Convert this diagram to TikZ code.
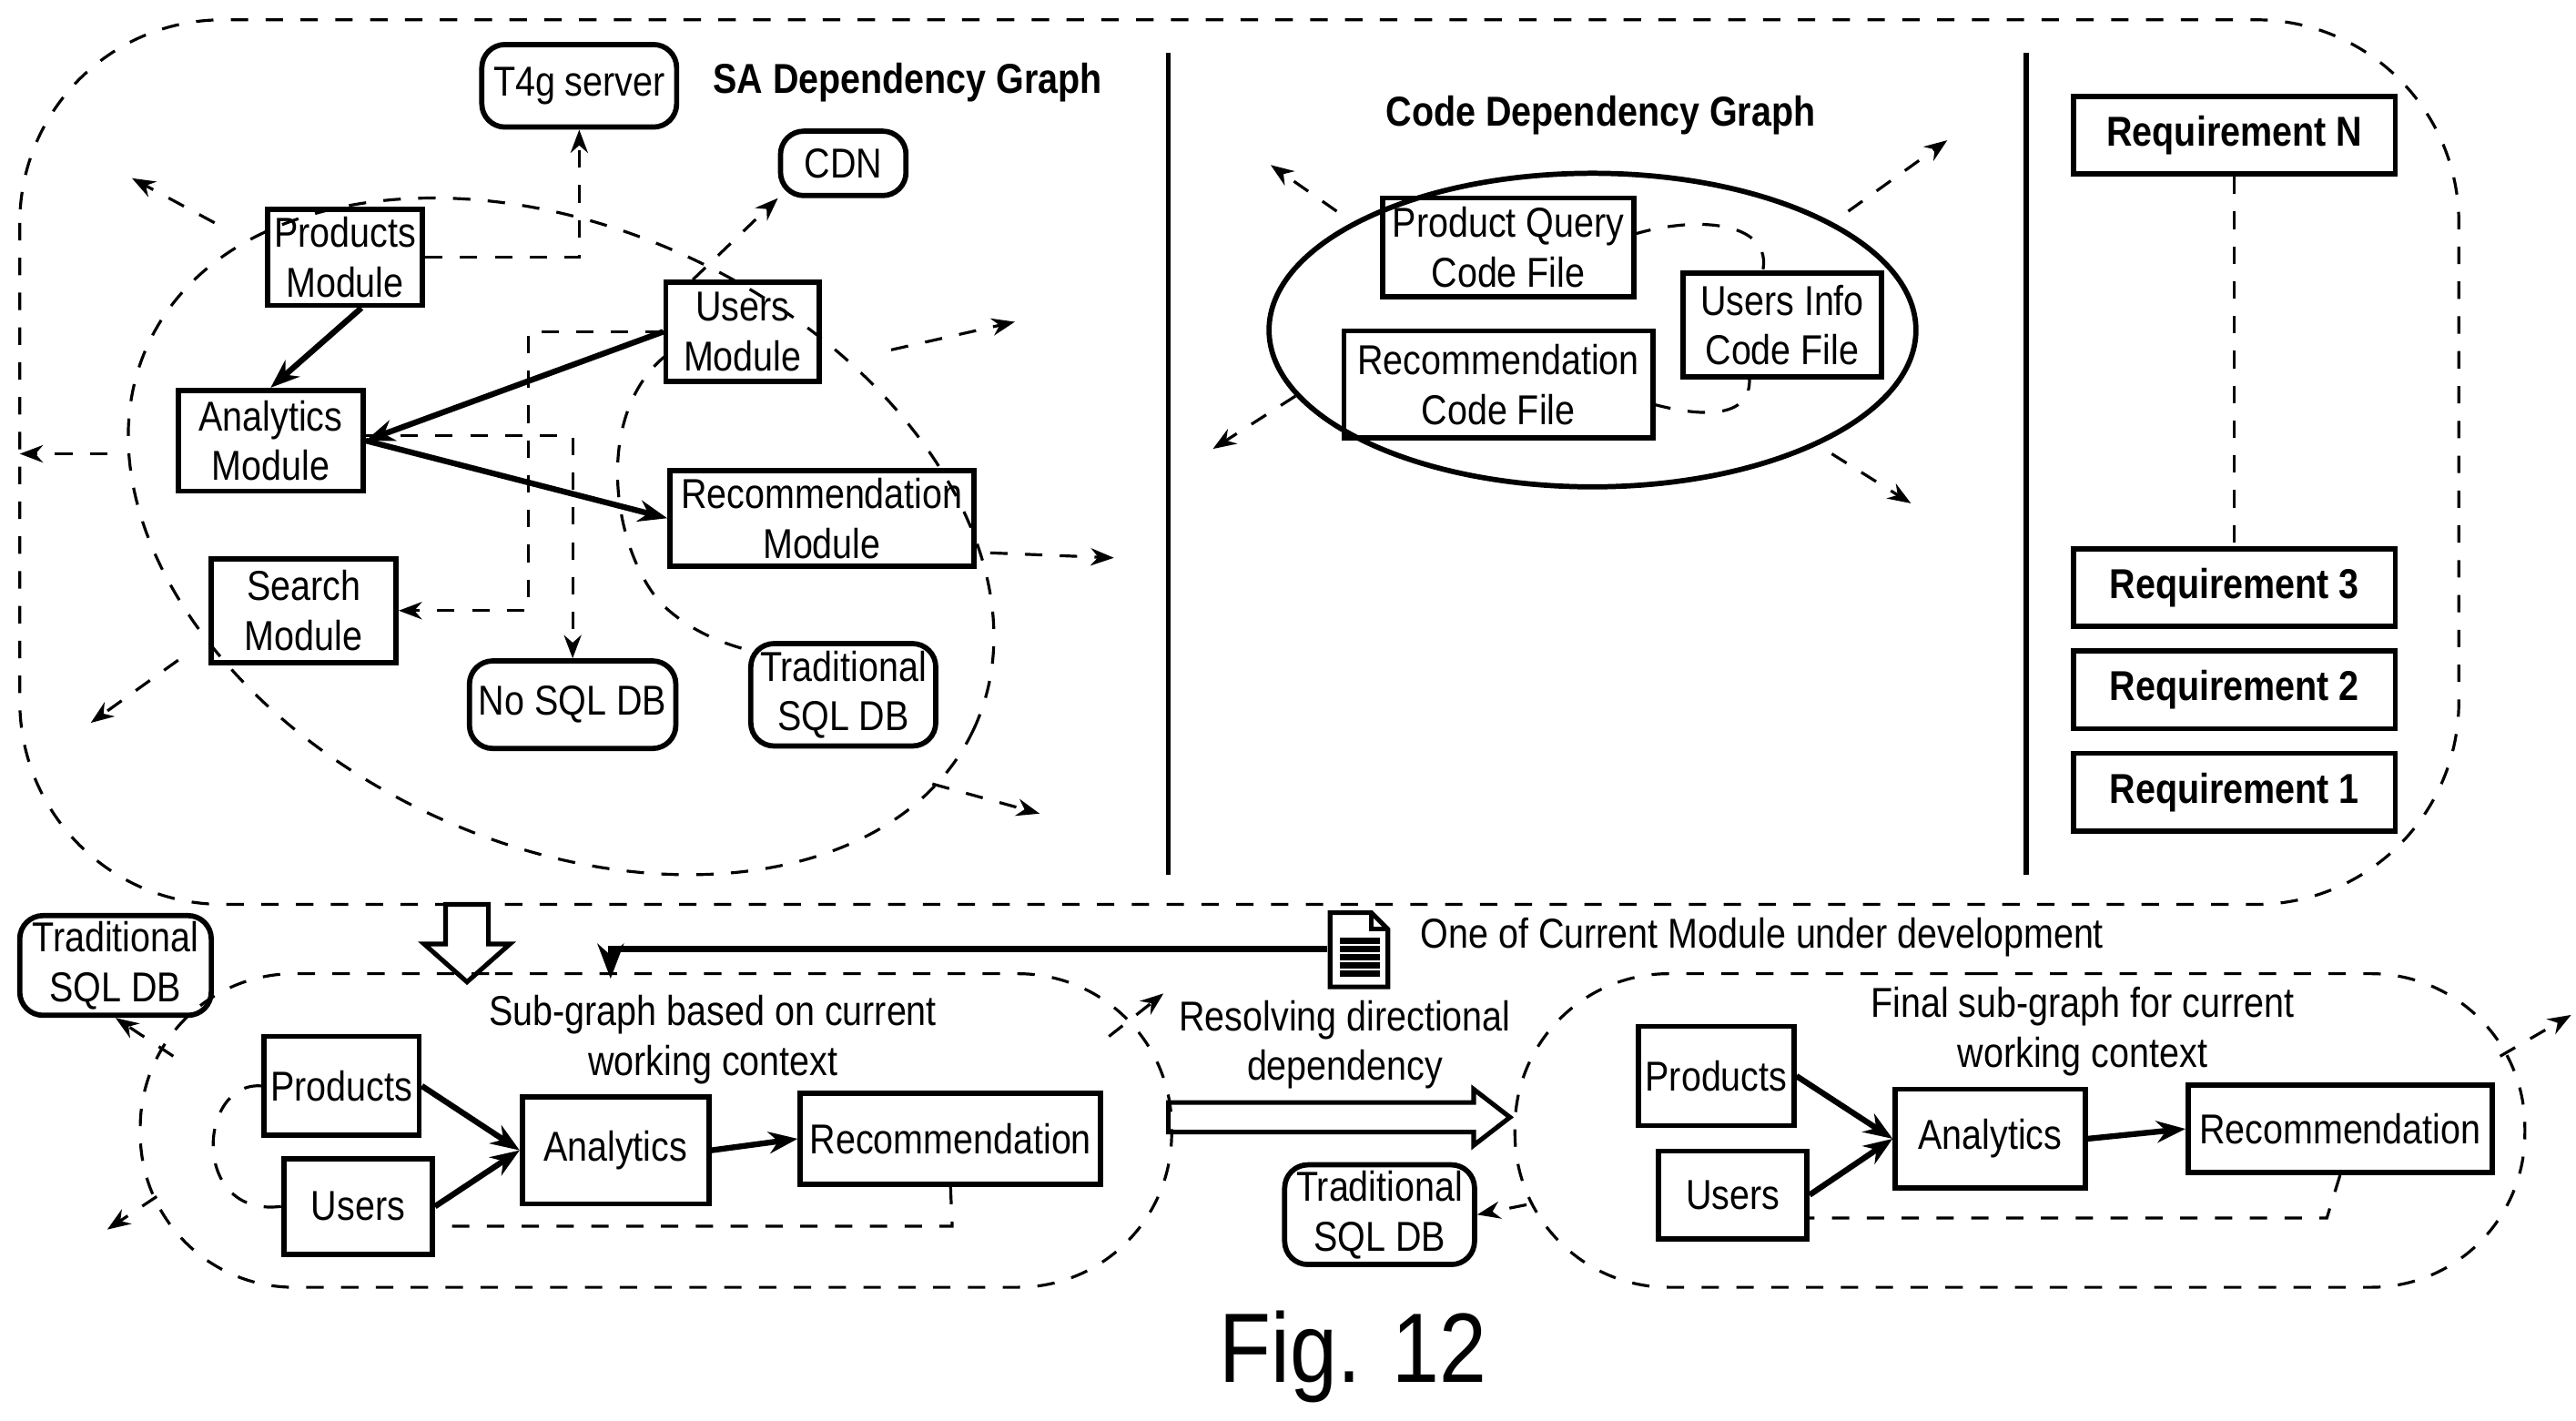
\documentclass[tikz,border=0pt]{standalone}
\usepackage{fontspec}
\setmainfont{Liberation Sans}[FakeStretch=0.86]
\usetikzlibrary{arrows.meta}
\begin{document}
\begin{tikzpicture}[x=0.01cm,y=-0.01cm,line width=0.6pt,
 every node/.style={font=\fontsize{7.2}{8.6}\selectfont},
 box/.style={draw,line width=0.9pt,align=center,inner sep=1pt},
 rbox/.style={box,rounded corners=4pt},
 req/.style={draw,line width=0.9pt,minimum width=1.95cm,minimum height=0.44cm,font=\fontsize{7.2}{8.6}\selectfont\bfseries},
 dsh/.style={dashed,line width=0.5pt},
 da/.style={dsh,-{Stealth[length=4pt]}},
 sa/.style={line width=1pt,-{Stealth[length=5pt]}}]
\useasboundingbox (0,0) rectangle (1561,861);
% frame
\draw[dsh] (12,12) [rounded corners=35pt] rectangle (1490,548);
\draw[line width=0.9pt] (708,32) -- (708,530) (1228,32) -- (1228,530);
% SA graph
\draw[dsh,rotate around={-25:(340,325)}] (340,325) ellipse [x radius=276,y radius=186];
\draw[dsh] (404,215) .. controls (360,250) and (370,330) .. (400,365) .. controls (420,385) and (445,392) .. (458,395);
\node[font=\fontsize{7.2}{8.6}\selectfont\bfseries] at (550,50) {SA Dependency Graph};
\node[rbox,minimum width=1.18cm,minimum height=0.5cm] (t4g) at (351,52) {T4g server};
\node[rbox,minimum width=0.76cm,minimum height=0.39cm] (cdn) at (511,99) {CDN};
\node[box,minimum width=0.94cm,minimum height=0.58cm] (prod) at (209,156) {Products\\Module};
\node[box,minimum width=0.93cm,minimum height=0.6cm] (users) at (450,201) {Users\\Module};
\node[box,minimum width=1.12cm,minimum height=0.61cm] (anal) at (164,267) {Analytics\\Module};
\node[box,minimum width=1.84cm,minimum height=0.58cm] (rec) at (498,314) {Recommendation\\Module};
\node[box,minimum width=1.12cm,minimum height=0.63cm] (search) at (184,370) {Search\\Module};
\node[rbox,minimum width=1.25cm,minimum height=0.53cm] (nosql) at (347,427) {No SQL DB};
\node[rbox,minimum width=1.12cm,minimum height=0.62cm] (tsql) at (511,421) {Traditional\\SQL DB};
\draw[da] (prod.east) -- (351,156) -- (t4g.south);
\draw[da] (users.north west) ++(18,0) -- (cdn.south west);
\draw[sa] (prod.south) ++(10,0) -- (anal.north);
\draw[sa] (users.west) -- (anal.east);
\draw[sa] (anal.east) -- (rec.west);
\draw[da] (anal.east) ++(0,-3) -- (347,264) -- (nosql.north);
\draw[da] (users.west) -- (320,201) -- (320,370) -- (search.east);
\coordinate (o1) at (80,108);\coordinate (o2) at (12,275);\coordinate (o3) at (55,438);
\coordinate (o4) at (615,195);\coordinate (o5) at (675,338);\coordinate (o6) at (630,493);
\draw[da] (130,135) -- (o1); \draw[da] (65,275) -- (o2); \draw[da] (108,400) -- (o3);
\draw[da] (540,212) -- (o4); \draw[da] (600,335) -- (o5); \draw[da] (565,475) -- (o6);
% code graph
\node[font=\fontsize{7.2}{8.6}\selectfont\bfseries] at (970,70) {Code Dependency Graph};
\draw[line width=0.9pt] (965,200) ellipse [x radius=196,y radius=95];
\node[box,minimum width=1.52cm,minimum height=0.6cm] (pq) at (914,150) {Product Query\\Code File};
\node[box,minimum width=1.2cm,minimum height=0.63cm] (ui) at (1080,197) {Users Info\\Code File};
\node[box,minimum width=1.87cm,minimum height=0.65cm] (rc) at (908,233) {Recommendation\\Code File};
\draw[dsh] (990,142) .. controls (1030,130) and (1075,135) .. (1068,165);
\draw[dsh] (1002,245) .. controls (1040,255) and (1062,250) .. (1060,228);
\coordinate (c1) at (770,100);\coordinate (c2) at (1180,85);\coordinate (c3) at (735,272);\coordinate (c4) at (1158,305);
\draw[da] (810,128) -- (c1); \draw[da] (1120,128) -- (c2); \draw[da] (785,240) -- (c3); \draw[da] (1110,275) -- (c4);
% requirements
\node[req] (rn) at (1354,82) {Requirement N};
\node[req] (r3) at (1354,356) {Requirement 3};
\node[req] (r2) at (1354,418) {Requirement 2};
\node[req] (r1) at (1354,480) {Requirement 1};
\draw[dsh] (rn.south) -- (r3.north);
% bottom
\draw[line width=0.8pt] (270,548) -- (296,548) -- (296,572) -- (309,572) -- (283,595) -- (257,572) -- (270,572) -- cycle;
\node[rbox,minimum width=1.16cm,minimum height=0.6cm] (tsql2) at (70,585) {Traditional\\SQL DB};
\draw[da] (105,640) -- (tsql2.south);
\draw[dsh] (300,590) [rounded corners=26.5pt] -- (710,590) -- (710,780) -- (85,780) -- (85,590) -- (300,590);
\node[align=center] at (432,630) {Sub-graph based on current\\working context};
\node[box,minimum width=0.94cm,minimum height=0.6cm] (p2) at (207,658) {Products};
\node[box,minimum width=0.9cm,minimum height=0.58cm] (u2) at (217,731) {Users};
\node[box,minimum width=1.13cm,minimum height=0.65cm] (a2) at (373,697) {Analytics};
\node[box,minimum width=1.82cm,minimum height=0.55cm] (re2) at (576,690) {Recommendation};
\draw[sa] (p2.east) -- (a2.west);
\draw[sa] (u2.east) -- (a2.west);
\draw[sa] (a2.east) -- (re2.west);
\draw[dsh] (p2.west) .. controls (120,655) and (115,738) .. (u2.west);
\draw[dsh] (re2.south) -- (577,743) -- (262,743);
\coordinate (b1) at (65,745);\coordinate (b2) at (705,602);
\draw[da] (95,725) -- (b1); \draw[da] (672,628) -- (b2);
% doc icon
\node[inner sep=0,minimum width=0.36cm,minimum height=0.46cm] (doc) at (823,575) {};
\draw[line width=0.8pt,fill=white] (806,553) -- (831,553) -- (841,563) -- (841,598) -- (806,598) -- cycle;
\draw[line width=0.8pt] (831,553) -- (831,563) -- (841,563);
\foreach \yy in {570,575,580,585,590} \draw[line width=1.2pt] (812,\yy) -- (836,\yy);
\draw[line width=1pt,-{Stealth[length=6pt]}] (doc.west) -- (370,575) -- (370,593);
\node[anchor=west] at (848,568) {One of Current Module under development};
\node[align=center] at (815,633) {Resolving directional\\dependency};
\draw[line width=0.8pt] (708,668) -- (893,668) -- (893,660) -- (915,677) -- (893,694) -- (893,686) -- (708,686) -- cycle;
\draw[dsh] (1200,590) [rounded corners=26.5pt] -- (1530,590) -- (1530,780) -- (918,780) -- (918,590) -- (1200,590);
\node[align=center] at (1262,625) {Final sub-graph for current\\working context};
\node[box,minimum width=0.94cm,minimum height=0.6cm] (p3) at (1040,652) {Products};
\node[box,minimum width=0.9cm,minimum height=0.53cm] (u3) at (1050,724) {Users};
\node[box,minimum width=1.15cm,minimum height=0.6cm] (a3) at (1206,690) {Analytics};
\node[box,minimum width=1.84cm,minimum height=0.53cm] (re3) at (1418,684) {Recommendation};
\draw[sa] (p3.east) -- (a3.west);
\draw[sa] (u3.east) -- (a3.west);
\draw[sa] (a3.east) -- (re3.west);
\draw[dsh] (re3.south) -- (1410,738) -- (1095,738);
\node[rbox,minimum width=1.15cm,minimum height=0.57cm] (tsql3) at (836,736) {Traditional\\SQL DB};
\draw[da] (925,730) -- (tsql3.east);
\coordinate (b3) at (1558,615);
\draw[da] (1515,640) -- (b3);
\node[font=\fontsize{17}{20}\selectfont] (fig) at (820,822) {Fig. 12};
\end{tikzpicture}
\end{document}
